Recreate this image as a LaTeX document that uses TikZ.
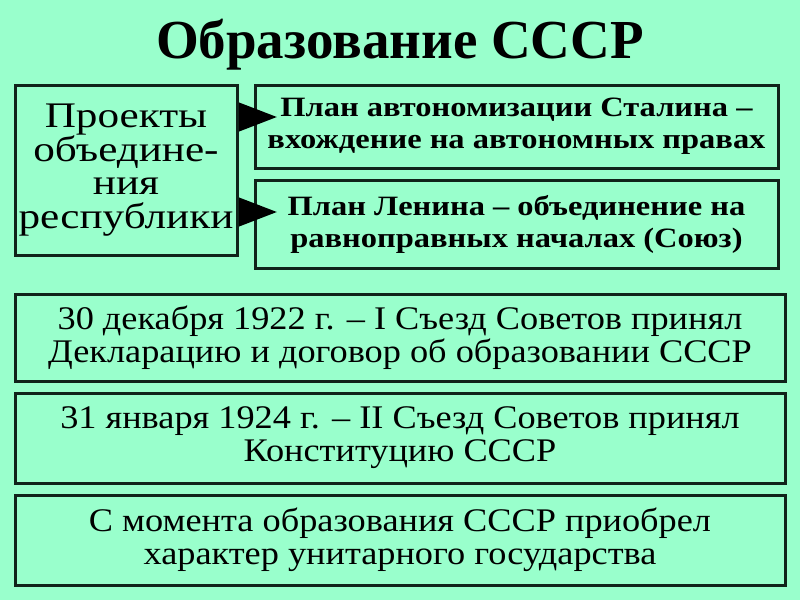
\documentclass[tikz,border=0pt]{standalone}
\usepackage{fontspec}
\setmainfont{Liberation Serif}
\newfontfamily\widefont[FakeStretch=1.16]{Liberation Serif}
\newfontfamily\projfont[FakeStretch=1.2]{Liberation Serif}
\newfontfamily\eventfont[FakeStretch=1.1]{Liberation Serif}
\usetikzlibrary{arrows.meta}
\definecolor{mint}{HTML}{99FFCC}
\definecolor{frame}{HTML}{10231A}
\tikzset{
  box/.style={draw=frame, line width=3pt, fill=mint, rectangle, align=center, inner sep=0pt},
  plan/.style={box, minimum width=523pt, font=\widefont\fontsize{28}{32}\selectfont\bfseries},
  event/.style={box, minimum width=770pt, minimum height=90pt, font=\eventfont\fontsize{33}{33}\selectfont},
  arr/.style={line width=4pt, -{Triangle[length=38pt,width=28pt]}}
}
\begin{document}
\begin{tikzpicture}[x=1pt,y=-1pt]
% Background
\fill[mint] (0,0) rectangle (800,600);
\useasboundingbox (0,0) rectangle (800,600);

% Title
\node[font=\fontsize{55}{60}\selectfont\bfseries] (title) at (400,45) {Образование СССР};

% Projects
\node[box, minimum width=222pt, minimum height=170pt, font=\projfont\fontsize{36}{33.5}\selectfont] (proj) at (126,170)
  {Проекты\\объедине-\\ния\\республики};
\node[plan, minimum height=83pt] (stalin) at (516.5,126.5)
  {План автономизации Сталина –\\вхождение на автономных правах};
\node[plan, minimum height=88pt] (lenin) at (516.5,224)
  {План Ленина – объединение на\\равноправных началах (Союз)};

% Arrows
\coordinate (t1) at (277,117);
\coordinate (t2) at (277,212);
\draw[arr] (proj.east |- t1) -- (t1);
\draw[arr] (proj.east |- t2) -- (t2);

% Events
\node[event, minimum height=87pt] (congA) at (400,337.5)
  {30 декабря 1922 г. – I Съезд Советов принял\\Декларацию и договор об образовании СССР};
\node[event] (congB) at (400,438)
  {31 января 1924 г. – II Съезд Советов принял\\Конституцию СССР};
\node[event] (unit) at (400,540)
  {С момента образования СССР приобрел\\характер унитарного государства};
\end{tikzpicture}
\end{document}
